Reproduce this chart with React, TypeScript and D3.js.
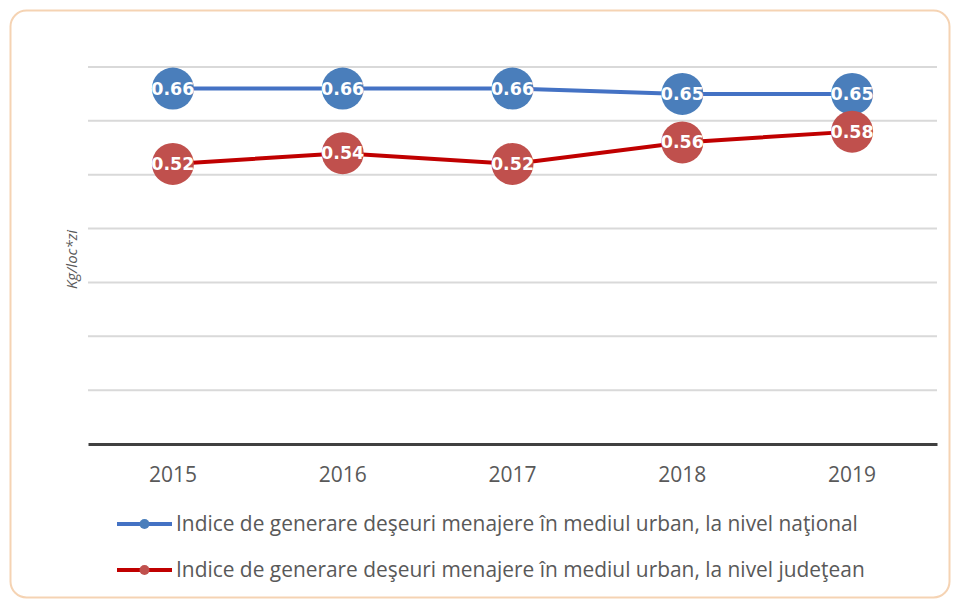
import React, { useRef, useEffect } from 'react';
import * as d3 from 'd3';

const years = ['2015', '2016', '2017', '2018', '2019'];
const nationalValues = [0.66, 0.66, 0.66, 0.65, 0.65];
const countyValues = [0.52, 0.54, 0.52, 0.56, 0.58];
const gridTicks = [0.1, 0.2, 0.3, 0.4, 0.5, 0.6, 0.7];
const seriesNames = [
  'Indice de generare deşeuri menajere în mediul urban, la nivel naţional',
  'Indice de generare deşeuri menajere în mediul urban, la nivel judeţean',
];
const yTitle = 'Kg/loc*zi';

const App: React.FC = () => {
  const svgRef = useRef<SVGSVGElement>(null);

  useEffect(() => {
    if (!svgRef.current) return;
    const svg = d3.select(svgRef.current);
    svg.selectAll('*').remove();

    const width = 955;
    const height = 601;
    const margin = { top: 67, right: 18, bottom: 157, left: 88 };
    const font = "'Open Sans', 'Liberation Sans', Arial, sans-serif";

    // outer frame
    svg.append('rect')
      .attr('x', 10.5).attr('y', 10.5)
      .attr('width', 939).attr('height', 587)
      .attr('rx', 16)
      .attr('fill', '#ffffff')
      .attr('stroke', '#f5d3b3')
      .attr('stroke-width', 2);

    const x = d3.scaleBand()
      .domain(years)
      .range([margin.left, width - margin.right]);

    const y = d3.scaleLinear()
      .domain([0, 0.7])
      .range([height - margin.bottom, margin.top]);

    const g = svg.append('g');

    // gridlines
    g.selectAll('.grid')
      .data(gridTicks)
      .enter()
      .append('line')
      .attr('x1', margin.left)
      .attr('x2', width - margin.right)
      .attr('y1', d => y(d))
      .attr('y2', d => y(d))
      .attr('stroke', '#d9d9d9')
      .attr('stroke-width', 2);

    // x axis
    const xAxis = g.append('g')
      .attr('transform', `translate(0,${y(0)})`)
      .call(d3.axisBottom(x).tickSize(0).tickPadding(23));
    xAxis.select('.domain')
      .attr('stroke', '#404040')
      .attr('stroke-width', 3);
    xAxis.selectAll('.tick text')
      .attr('fill', '#595959')
      .style('font-family', font)
      .style('font-size', '21px');

    // y title
    svg.append('text')
      .attr('transform', `translate(77,${(y(0) + y(0.7)) / 2 + 4}) rotate(-90)`)
      .attr('text-anchor', 'middle')
      .attr('fill', '#595959')
      .style('font-family', font)
      .style('font-size', '15px')
      .style('font-style', 'italic')
      .text(yTitle);

    const cx = (d: string) => (x(d) || 0) + x.bandwidth() / 2;

    const series = [
      { values: nationalValues, line: '#4472c4', dot: '#4a7ebb' },
      { values: countyValues, line: '#c00000', dot: '#c0504d' },
    ];

    const line = d3.line<number>()
      .x((_, i) => cx(years[i]))
      .y(d => y(d));

    series.forEach(s => {
      g.append('path')
        .datum(s.values)
        .attr('d', line)
        .attr('fill', 'none')
        .attr('stroke', s.line)
        .attr('stroke-width', 4);
    });

    series.forEach(s => {
      const pts = g.append('g');
      pts.selectAll('circle')
        .data(s.values)
        .enter()
        .append('circle')
        .attr('cx', (_, i) => cx(years[i]))
        .attr('cy', d => y(d))
        .attr('r', 21)
        .attr('fill', s.dot);
      pts.selectAll('text')
        .data(s.values)
        .enter()
        .append('text')
        .attr('x', (_, i) => cx(years[i]))
        .attr('y', d => y(d) + 6)
        .attr('text-anchor', 'middle')
        .attr('fill', '#ffffff')
        .style('font-family', "'DejaVu Sans', sans-serif")
        .style('font-size', '17.5px')
        .style('font-weight', 'bold')
        .text(d => d.toFixed(2));
    });

    // legend
    const legend = svg.append('g');
    series.forEach((s, i) => {
      const ly = 524 + i * 46;
      legend.append('line')
        .attr('x1', 117).attr('x2', 172)
        .attr('y1', ly).attr('y2', ly)
        .attr('stroke', s.line)
        .attr('stroke-width', 4);
      legend.append('circle')
        .attr('cx', 144.5).attr('cy', ly)
        .attr('r', 5)
        .attr('fill', s.dot);
      legend.append('text')
        .attr('x', 176)
        .attr('y', ly + 7)
        .attr('fill', '#595959')
        .style('font-family', font)
        .style('font-size', '20.9px')
        .text(seriesNames[i]);
    });
  }, []);

  return (
    <svg ref={svgRef} width={955} height={601} style={{ position: 'absolute', left: 0, top: 0 }} />
  );
};

export default App;
